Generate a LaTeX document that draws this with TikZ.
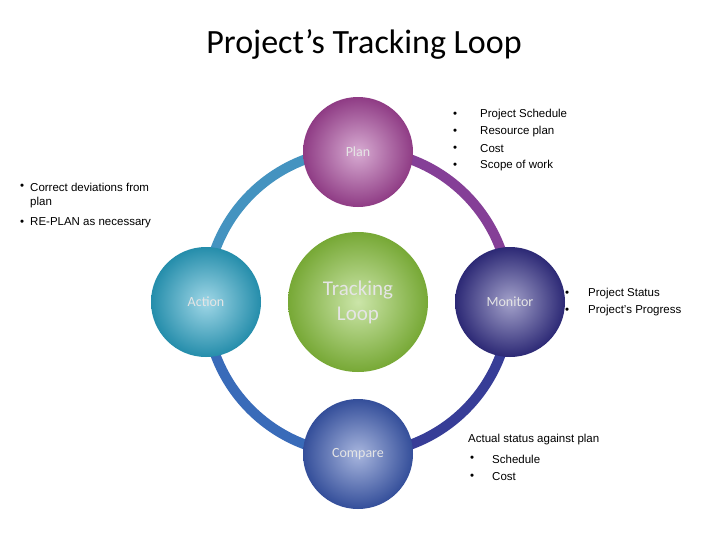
\documentclass[tikz,border=0pt]{standalone}
\usepackage{fontspec}
\setmainfont{Liberation Sans}
\newfontfamily\calib{Carlito}
\usetikzlibrary{calc}
\definecolor{plancol}{HTML}{A8469C}
\definecolor{actcol}{HTML}{2BA6C9}
\definecolor{moncol}{HTML}{34308A}
\definecolor{cmpcol}{HTML}{3D5CB5}
\definecolor{loopcol}{HTML}{8CC63F}
\tikzset{
  stage/.style={circle,minimum size=#1,text=white!90!black,font=\calib\fontsize{14}{16}\selectfont},
  shade/.style={shading=radial,inner color=#1!45!white,outer color=#1!85!black},
  ring/.style={line width=10pt},
  note/.style={anchor=west,font=\fontsize{11.5}{13}\selectfont,inner sep=0pt}
}
\begin{document}
\begin{tikzpicture}[x=1pt,y=-1pt]
    \useasboundingbox[fill=white] (0,0) rectangle (728,546);
    \node[font=\calib\fontsize{34}{38}\selectfont] (title) at (364,44) {Project’s Tracking Loop};

    % the loop
    \coordinate (c) at (358,302);
    \draw[ring,color=actcol!80!plancol] ($(c)+(180:152)$) arc (180:270:152);
    \draw[ring,color=plancol!70!moncol] ($(c)+(270:152)$) arc (270:360:152);
    \draw[ring,color=moncol!70!cmpcol] ($(c)+(0:152)$) arc (0:90:152);
    \draw[ring,color=cmpcol!80!actcol] ($(c)+(90:152)$) arc (90:180:152);

    \node[stage=110pt,shade=plancol] (plan) at (358,152) {Plan};
    \node[stage=110pt,shade=actcol] (action) at (206,302) {Action};
    \node[stage=110pt,shade=moncol] (monitor) at (510,302) {Monitor};
    \node[stage=110pt,shade=cmpcol] (compare) at (358,454) {Compare};
    \node[stage=140pt,shade=loopcol,align=center,
          font=\calib\fontsize{21}{25}\selectfont] (loop) at (c) {Tracking\\Loop};

    % notes
    \foreach \t [count=\i] in {Project Schedule,Resource plan,Cost,Scope of work} {
        \node[note] (pb\i) at (453,98+\i*17) {\textbullet};
        \node[note] (pn\i) at (480,98+\i*17) {\t};
    }
    \node[note] (lb1) at (20,187) {\textbullet};
    \node[note] (ln1) at (30,187) {Correct deviations from};
    \node[note] (ln2) at (30,203) {plan};
    \node[note] (lb2) at (20,223) {\textbullet};
    \node[note] (ln3) at (30,223) {RE-PLAN as necessary};
    \foreach \t [count=\i] in {Project Status,Project’s Progress} {
        \node[note] (mb\i) at (565,277+\i*17) {\textbullet};
        \node[note] (mn\i) at (588,277+\i*17) {\t};
    }
    \node[note] (cn0) at (468,440) {Actual status against plan};
    \foreach \t [count=\i] in {Schedule,Cost} {
        \node[note] (cb\i) at (470,441+\i*18) {\textbullet};
        \node[note] (cn\i) at (492,441+\i*18) {\t};
    }
\end{tikzpicture}
\end{document}
